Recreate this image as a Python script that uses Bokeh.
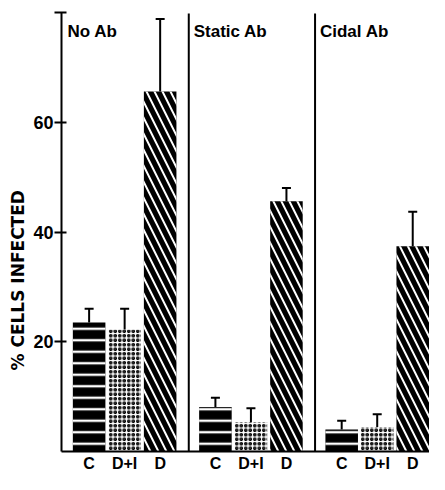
from bokeh.plotting import figure
from bokeh.models import Range1d, FixedTicker, Whisker, TeeHead, ColumnDataSource, Label, Title
from bokeh.embed import file_html
from bokeh.resources import INLINE

# ---- data ----
groups = ["No Ab", "Static Ab", "Cidal Ab"]
conditions = ["C", "D+I", "D"]
no_ab = [23.5, 22.2, 65.6]
no_ab_err = [2.5, 3.8, 13.2]
static_ab = [8.1, 5.3, 45.6]
static_ab_err = [1.7, 2.6, 2.4]
cidal_ab = [4.0, 4.4, 37.4]
cidal_ab_err = [1.6, 2.4, 6.3]
y_ticks = [20, 40, 60, 80]
y_tick_labels = ["20", "40", "60", ""]
y_title = "% CELLS INFECTED"

values = [no_ab, static_ab, cidal_ab]
errors = [no_ab_err, static_ab_err, cidal_ab_err]

# ---- layout ----
PANEL = 128
OFFSET = {"C": 28, "D+I": 64, "D": 100}
BAR_W = 33
FONT = "Liberation Sans"

p = figure(width=429, height=474, output_backend="svg", toolbar_location=None,
           x_range=Range1d(0, 373), y_range=Range1d(0, 80),
           min_border_left=61, min_border_right=0, min_border_top=12, min_border_bottom=20)
p.outline_line_color = None
p.xgrid.visible = False
p.ygrid.visible = False

styles = {
    "C": dict(fill_color="black", hatch_pattern="-", hatch_color="white", hatch_scale=11.5, hatch_weight=2.4),
    "D+I": dict(fill_color="white", hatch_pattern="o", hatch_color="black", hatch_scale=4.5, hatch_weight=1.4),
    "D": dict(fill_color="black", hatch_pattern="\\", hatch_color="white", hatch_scale=16, hatch_weight=2.0),
}

tick_pos = []
tick_lab = {}
for ci, cond in enumerate(conditions):
    xs = [gi * PANEL + OFFSET[cond] for gi in range(len(groups))]
    tops = [values[gi][ci] for gi in range(len(groups))]
    errs = [errors[gi][ci] for gi in range(len(groups))]
    src = ColumnDataSource(dict(x=xs, top=tops, upper=[t + e for t, e in zip(tops, errs)]))
    p.vbar(x="x", top="top", bottom=0, width=BAR_W, source=src, line_color=None, **styles[cond])
    p.add_layout(Whisker(source=src, base="x", lower="top", upper="upper",
                         line_color="black", line_width=2,
                         upper_head=TeeHead(size=9, line_color="black", line_width=2),
                         lower_head=None))
    for x in xs:
        tick_pos.append(x)
        tick_lab[x] = cond

# panel dividers
div_x = [gi * PANEL + 1 for gi in range(1, len(groups))]
p.segment(x0=div_x, y0=[0] * len(div_x), x1=div_x, y1=[79.8] * len(div_x),
          line_color="black", line_width=2)

# panel titles
for gi, g in enumerate(groups):
    p.add_layout(Label(x=gi * PANEL + 6, y=78.3, text=g, text_align="left", text_baseline="top",
                       text_font=FONT, text_font_style="bold", text_font_size="17px",
                       text_color="black"))

# axes
xa = p.xaxis[0]
xa.ticker = FixedTicker(ticks=sorted(tick_pos))
xa.major_label_overrides = tick_lab
xa.major_tick_out = 0
xa.major_tick_in = 0
xa.minor_tick_out = 0
xa.minor_tick_in = 0
xa.axis_line_width = 2
xa.major_label_standoff = 3
xa.major_label_text_font = FONT
xa.major_label_text_font_style = "bold"
xa.major_label_text_font_size = "16px"
xa.major_label_text_color = "black"

ya = p.yaxis[0]
ya.ticker = FixedTicker(ticks=y_ticks)
ya.major_label_overrides = dict(zip(y_ticks, y_tick_labels))
ya.major_tick_out = 7
ya.major_tick_in = 5
ya.major_tick_line_width = 2
ya.minor_tick_out = 0
ya.minor_tick_in = 0
ya.axis_line_width = 2
ya.major_label_standoff = 1
ya.major_label_text_font = FONT
ya.major_label_text_font_style = "bold"
ya.major_label_text_font_size = "18px"
ya.major_label_text_color = "black"

p.add_layout(Title(text=y_title, align="left", offset=81, standoff=5,
                   text_font="DejaVu Sans", text_font_style="bold", text_font_size="17px",
                   text_color="black"), "left")

open("out.html", "w").write(file_html(p, INLINE))
